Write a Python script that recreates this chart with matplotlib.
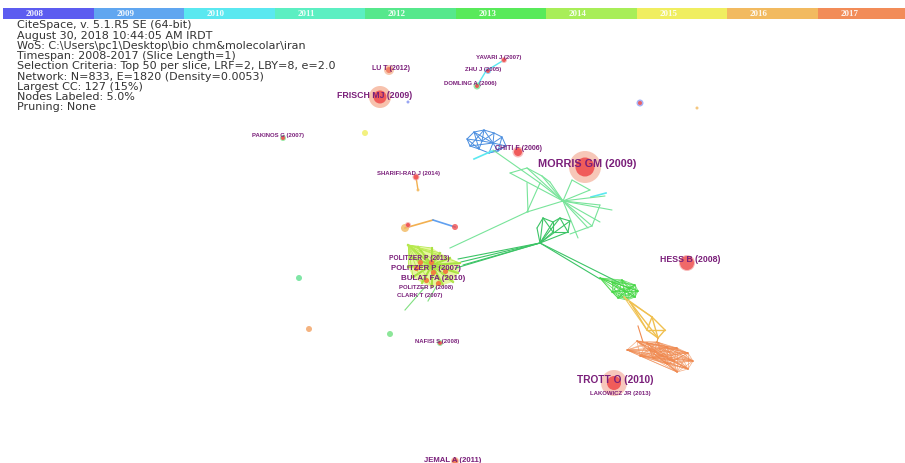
import numpy as np
import matplotlib.pyplot as plt
from matplotlib.patches import Rectangle, Circle, Polygon

# timeline bar
years = ['2008', '2009', '2010', '2011', '2012', '2013', '2014', '2015', '2016', '2017']
year_colors = ['#5c5cf0', '#60a6f0', '#5ae8f0', '#5cefc2', '#56e88c',
               '#58ea5a', '#a8ee58', '#f0ee60', '#f2ba60', '#f28c58']

info_lines = [
    'CiteSpace, v. 5.1.R5 SE (64-bit)',
    'August 30, 2018 10:44:05 AM IRDT',
    'WoS: C:\\Users\\pc1\\Desktop\\bio chm&molecolar\\iran',
    'Timespan: 2008-2017 (Slice Length=1)',
    'Selection Criteria: Top 50 per slice, LRF=2, LBY=8, e=2.0',
    'Network: N=833, E=1820 (Density=0.0053)',
    'Largest CC: 127 (15%)',
    'Nodes Labeled: 5.0%',
    'Pruning: None',
]

# labels: text, x, y, font size
label_text = ['LU T (2012)', 'YAVARI J (2007)', 'ZHU J (2005)', 'DOMLING A (2006)',
              'FRISCH MJ (2009)', 'PAKINOS G (2007)', 'CHITI F (2006)', 'MORRIS GM (2009)',
              'SHARIFI-RAD J (2014)', 'HESS B (2008)', 'POLITZER P (2013)',
              'POLITZER P (2007)', 'BULAT FA (2010)', 'POLITZER P (2008)', 'CLARK T (2007)',
              'NAFISI S (2008)', 'TROTT O (2010)', 'LAKOWICZ JR (2013)', 'JEMAL A (2011)']
label_x = [372, 476, 465, 444, 337, 252, 495, 538, 377, 660, 389, 391, 401, 399, 397,
           415, 577, 590, 424]
label_y = [68, 58, 70, 84, 95, 136, 149, 164, 174, 260, 259, 268, 278, 287, 296,
           341, 380, 393, 460]
label_size = [5, 4.3, 4.3, 4.3, 6.3, 4.3, 5, 7.8, 4.3, 6.3, 4.8, 5.6, 5.8, 4.3, 4.3,
              4.3, 7.3, 4.3, 5.6]

# cited nodes with halo: x, y, halo radius, core radius, core colour, halo colour
hub_x = [389, 504, 488, 477, 380, 283, 518, 585, 416, 687, 614, 455, 640, 408, 440]
hub_y = [70, 60, 71, 86, 97, 138, 152, 167, 177, 263, 383, 461, 103, 225, 343]
hub_halo = [5, 3, 3, 3.5, 11, 3, 5.5, 16, 3.5, 8, 13, 4, 3.5, 3, 3]
hub_core = [3, 2, 2, 2, 6.5, 2, 4, 9.5, 2.5, 7, 7, 3, 2, 2, 2]
hub_color = ['#f07a60', '#f05050', '#f05050', '#f05050', '#f05050', '#f05050',
             '#f05050', '#f05050', '#f05050', '#f06060', '#f05050', '#f07850',
             '#f05858', '#f05050', '#f05050']
hub_halo_color = ['#f5b08a', '#f0a0a0', '#60c0f0', '#60e080', '#f5a88a', '#70e080',
                  '#f5a0a0', '#f5b09a', '#f5a0a0', '#f5a0a0', '#f5b0a0', '#f5b090',
                  '#8090f0', '#f0a0a0', '#70e080']

# isolated small nodes
dot_x = [365, 697, 299, 309, 390, 408, 405, 455, 418]
dot_y = [133, 108, 278, 329, 334, 102, 228, 227, 190]
dot_r = [3, 1.5, 3, 3, 3, 1.5, 4, 3, 1.5]
dot_color = ['#f0ee60', '#f2ba60', '#60e090', '#f2a060', '#70e080', '#8090f0',
             '#f2ba60', '#f05050', '#f2ba60']

# blue cluster (2009)
blue_x = [467, 474, 484, 494, 502, 506, 498, 489, 479, 470, 482, 493]
blue_y = [139, 132, 130, 133, 137, 146, 151, 153, 149, 146, 141, 143]
blue_edges = [(0, 1), (1, 2), (2, 3), (3, 4), (4, 5), (5, 6), (6, 7), (7, 8), (8, 9),
              (9, 0), (10, 0), (10, 1), (10, 2), (10, 8), (10, 11), (11, 3), (11, 4),
              (11, 5), (11, 6), (11, 7), (1, 8), (2, 9), (3, 10), (4, 6), (0, 8),
              (2, 11), (1, 11), (9, 11), (5, 7)]

# green star around hub (2012)
star_x = [563, 493, 540, 510, 527, 542, 550, 572, 590, 600, 612, 600, 588, 578, 527,
          592, 570, 605]
star_y = [201, 150, 183, 173, 168, 176, 182, 180, 190, 205, 210, 222, 228, 238, 212,
          226, 234, 196]
star_edges = [(0, 2), (1, 2), (0, 3), (0, 4), (0, 5), (0, 6), (0, 7), (0, 8), (0, 9),
              (0, 10), (0, 11), (0, 12), (0, 13), (0, 14), (4, 5), (5, 6), (3, 4),
              (0, 15), (15, 16), (9, 15), (2, 14), (0, 17), (7, 8)]

# dark green diamond with second hub (2012)
dia_x = [540, 537, 543, 553, 560, 570, 568, 553, 450, 458, 461, 463, 456, 600, 620]
dia_y = [243, 228, 218, 222, 218, 221, 232, 232, 248, 259, 262, 265, 268, 279, 283]
dia_edges = [(0, 1), (0, 2), (0, 3), (0, 4), (0, 5), (0, 6), (0, 7), (1, 2), (2, 3),
             (3, 4), (4, 5), (5, 6), (6, 7), (3, 7), (2, 7), (4, 6), (0, 9), (0, 10),
             (0, 11), (0, 12), (0, 13), (0, 14)]
long_x = [527, 450]
long_y = [212, 248]

# green cluster (2013)
g13_x = [600, 612, 622, 635, 638, 635, 627, 618, 612, 630, 624]
g13_y = [278, 282, 280, 285, 291, 297, 300, 298, 292, 288, 291]

# yellow diamond (2015)
y15_x = [630, 652, 665, 658, 647]
y15_y = [302, 317, 330, 338, 330]
y15_edges = [(0, 1), (0, 4), (1, 2), (2, 3), (3, 4), (4, 1), (1, 3), (4, 2), (0, 3)]

# orange cluster (2016-2017)
o17_x = [627, 637, 647, 657, 667, 677, 688, 693, 688, 677, 667, 653, 640, 650, 662,
         674]
o17_y = [350, 341, 343, 342, 347, 348, 353, 361, 369, 372, 364, 358, 356, 350, 356,
         361]
o17_tail_x = [643, 638]
o17_tail_y = [342, 326]

# lime cluster (2014)
lime_x = [408, 418, 432, 440, 450, 460, 458, 453, 443, 432, 422, 413, 408, 410]
lime_y = [245, 247, 248, 253, 258, 263, 273, 282, 285, 287, 283, 277, 267, 257]
lime_hot_x = [431, 416, 445, 426, 438, 420, 433]
lime_hot_y = [262, 268, 271, 280, 283, 262, 272]

label_color = '#7a1f7a'


def draw_bar(ax):
    w = 905 / len(years)
    for i, (yr, c) in enumerate(zip(years, year_colors)):
        ax.add_patch(Rectangle((3 + i * w, 8), w, 11, color=c, lw=0))
        ax.text(3 + i * w + 32, 13.5, yr, color='white', fontsize=6.5, ha='center',
                va='center', family='Liberation Serif', fontweight='bold', alpha=0.9)


def draw_mesh(ax, xs, ys, color, lw=0.7, alpha=0.8):
    n = len(xs)
    for i in range(n):
        for j in range(i + 1, n):
            ax.plot([xs[i], xs[j]], [ys[i], ys[j]], color=color, lw=lw, alpha=alpha,
                    solid_capstyle='round')


def draw_edges(ax, xs, ys, edges, color, lw=0.8):
    for a, b in edges:
        ax.plot([xs[a], xs[b]], [ys[a], ys[b]], color=color, lw=lw,
                solid_capstyle='round')


def main():
    fig = plt.figure(figsize=(9.05, 4.63), dpi=100)
    ax = fig.add_axes([0, 0, 1, 1])
    ax.set_xlim(0, 905)
    ax.set_ylim(463, 0)
    ax.axis('off')

    draw_bar(ax)
    ax.text(17, 20.5, '\n'.join(info_lines), fontsize=8.0, family='DejaVu Sans',
            color='#333333', va='top', ha='left', linespacing=1.03)

    # clusters
    draw_edges(ax, blue_x, blue_y, blue_edges, '#4a8ee0', lw=0.7)
    ax.plot([474, 492], [159, 151], color='#5ae8f0', lw=1.2)
    ax.plot([591, 606], [197, 193], color='#5ae8f0', lw=1.2)
    draw_edges(ax, star_x, star_y, star_edges, '#78e49a', lw=0.8)
    draw_edges(ax, dia_x, dia_y, dia_edges, '#3cc466', lw=0.8)
    ax.plot(long_x, long_y, color='#78e49a', lw=0.8)
    ax.plot([527, 528], [183, 212], color='#78e49a', lw=0.8)

    lime = np.column_stack([lime_x, lime_y])
    ax.add_patch(Polygon(lime, closed=True, color='#d8f060', alpha=0.6, lw=0))
    for x, y in zip(lime_x, lime_y):
        ax.plot([432, x], [265, y], color='#a8e040', lw=1.5)
    for x, y in zip(lime_x[1:], lime_y[1:]):
        ax.plot([lime_x[0], x], [lime_y[0], y], color='#b8ea50', lw=0.6)
    ax.plot([425, 405], [287, 310], color='#80e080', lw=0.8)
    ax.plot([436, 428], [287, 301], color='#80e080', lw=0.8)
    ax.scatter(lime_hot_x, lime_hot_y, s=14, color='#f08040', zorder=3, lw=0)

    draw_mesh(ax, g13_x, g13_y, '#48d848', lw=0.6)
    for x, y in zip(y15_x[:2], y15_y[:2]):
        ax.plot([624, x], [297, y], color='#f2c860', lw=0.8)
    ax.plot([624, 647], [297, 330], color='#f2c860', lw=0.8)
    draw_edges(ax, y15_x, y15_y, y15_edges, '#f0c050', lw=1.0)
    draw_mesh(ax, o17_x, o17_y, '#f08a50', lw=0.5, alpha=0.7)
    ax.plot(o17_tail_x, o17_tail_y, color='#f08a50', lw=0.8)
    ax.plot([658, o17_x[3]], [338, o17_y[3]], color='#f0a050', lw=0.8)

    # small pairs
    ax.plot([405, 433], [228, 220], color='#f2b050', lw=1.2)
    ax.plot([433, 455], [220, 227], color='#60a0f0', lw=1.2)
    ax.plot([416, 418], [177, 190], color='#f2b050', lw=1.0)
    ax.plot([477, 486, 504], [86, 71, 60], color='#5ae8f0', lw=1.0)

    for x, y, r, c in zip(dot_x, dot_y, dot_r, dot_color):
        ax.add_patch(Circle((x, y), r, color=c, alpha=0.8, lw=0, zorder=3))

    for x, y, hr, cr, c, hc in zip(hub_x, hub_y, hub_halo, hub_core, hub_color,
                                   hub_halo_color):
        ax.add_patch(Circle((x, y), hr, color=hc, alpha=0.7, lw=0, zorder=4))
        ax.add_patch(Circle((x, y), cr, color=c, alpha=0.9, lw=0, zorder=5))

    for t, x, y, s in zip(label_text, label_x, label_y, label_size):
        ax.text(x, y, t, fontsize=s, color=label_color, fontweight='bold',
                family='Liberation Sans', ha='left', va='center', zorder=6)

    fig.savefig('out.png', dpi=100)


if __name__ == '__main__':
    main()
